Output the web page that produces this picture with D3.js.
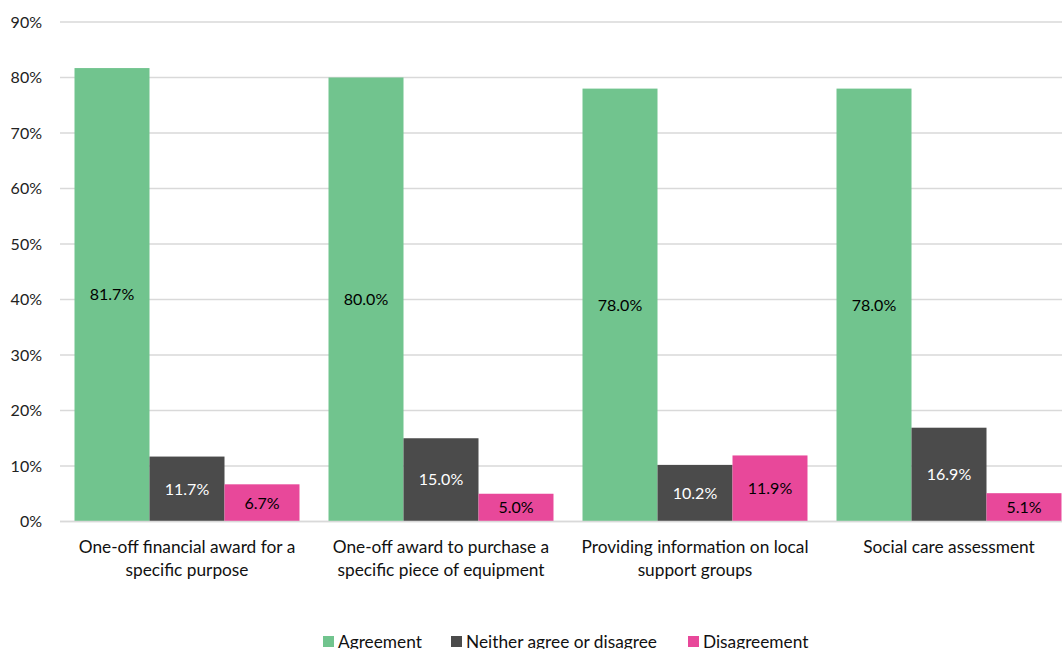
<!DOCTYPE html>
<html>
<head>
<meta charset="utf-8">
<script src="https://cdn.jsdelivr.net/npm/d3@7"></script>
<style>
  html, body { margin: 0; padding: 0; background: #fff; overflow: hidden; }
  svg { display: block; font-family: Lato, "Open Sans", sans-serif; }
</style>
</head>
<body>
<svg id="chart" width="1062" height="649"></svg>
<script>
// Survey responses by type of support
const categories = [
  ["One-off financial award for a", "specific purpose"],
  ["One-off award to purchase a", "specific piece of equipment"],
  ["Providing information on local", "support groups"],
  ["Social care assessment"]
];
const seriesNames = ["Agreement", "Neither agree or disagree", "Disagreement"];
const agreement = [81.7, 80.0, 78.0, 78.0];
const neither = [11.7, 15.0, 10.2, 16.9];
const disagreement = [6.7, 5.0, 11.9, 5.1];
const yTicks = [0, 10, 20, 30, 40, 50, 60, 70, 80, 90];

const colors = ["#71c48e", "#4b4b4b", "#e8489a"];
const labelColors = ["#000", "#fff", "#000"];
const series = [agreement, neither, disagreement];

const svg = d3.select("#chart");
const margin = { left: 60, top: 22, plotRight: 1076, bottom: 521.5 };

const x0 = d3.scaleBand()
  .domain(d3.range(categories.length))
  .range([margin.left, margin.plotRight])
  .paddingInner(0.1142)
  .paddingOuter(0.0571);
const x1 = d3.scaleBand()
  .domain(d3.range(series.length))
  .range([0, x0.bandwidth()]);
const y = d3.scaleLinear().domain([0, 90]).range([margin.bottom, margin.top]);

// gridlines
svg.append("g").selectAll("line").data(yTicks).join("line")
  .attr("x1", margin.left).attr("x2", 1062)
  .attr("y1", d => y(d)).attr("y2", d => y(d))
  .attr("stroke", "#d9d9d9").attr("stroke-width", 1.3);

// y tick labels
svg.append("g").selectAll("text").data(yTicks).join("text")
  .attr("x", 42).attr("y", d => y(d))
  .attr("dy", "0.35em")
  .attr("text-anchor", "end")
  .attr("font-size", 16).attr("fill", "#222")
  .text(d => d + "%");

// bars
const groups = svg.append("g").selectAll("g").data(categories).join("g")
  .attr("transform", (d, i) => `translate(${x0(i)},0)`);

groups.each(function(cat, ci) {
  const g = d3.select(this);
  series.forEach((vals, si) => {
    const v = vals[ci];
    g.append("rect")
      .attr("x", x1(si)).attr("width", x1.bandwidth())
      .attr("y", y(v)).attr("height", y(0) - y(v))
      .attr("fill", colors[si]);
    g.append("text")
      .attr("x", x1(si) + x1.bandwidth() / 2)
      .attr("y", (y(v) + y(0)) / 2)
      .attr("dy", "0.35em")
      .attr("text-anchor", "middle")
      .attr("font-size", 16)
      .attr("fill", labelColors[si])
      .text(v.toFixed(1) + "%");
  });
});

// baseline
svg.append("line")
  .attr("x1", margin.left).attr("x2", 1062)
  .attr("y1", y(0)).attr("y2", y(0))
  .attr("stroke", "#d9d9d9").attr("stroke-width", 1.5);

// category labels
svg.append("g").selectAll("text").data(categories).join("text")
  .attr("x", (d, i) => x0(i) + x0.bandwidth() / 2)
  .attr("y", 553)
  .attr("text-anchor", "middle")
  .attr("font-size", 17.3).attr("fill", "#111")
  .each(function(lines) {
    d3.select(this).selectAll("tspan").data(lines).join("tspan")
      .attr("x", d3.select(this).attr("x"))
      .attr("dy", (d, k) => k === 0 ? 0 : 23)
      .text(d => d);
  });

// legend
const legendX = [323, 451, 688];
const legend = svg.append("g");
seriesNames.forEach((name, i) => {
  legend.append("rect")
    .attr("x", legendX[i]).attr("y", 636)
    .attr("width", 11).attr("height", 11)
    .attr("fill", colors[i]);
  legend.append("text")
    .attr("x", legendX[i] + 15).attr("y", 648)
    .attr("font-size", 17.3).attr("fill", "#111")
    .text(name);
});
</script>
</body>
</html>
